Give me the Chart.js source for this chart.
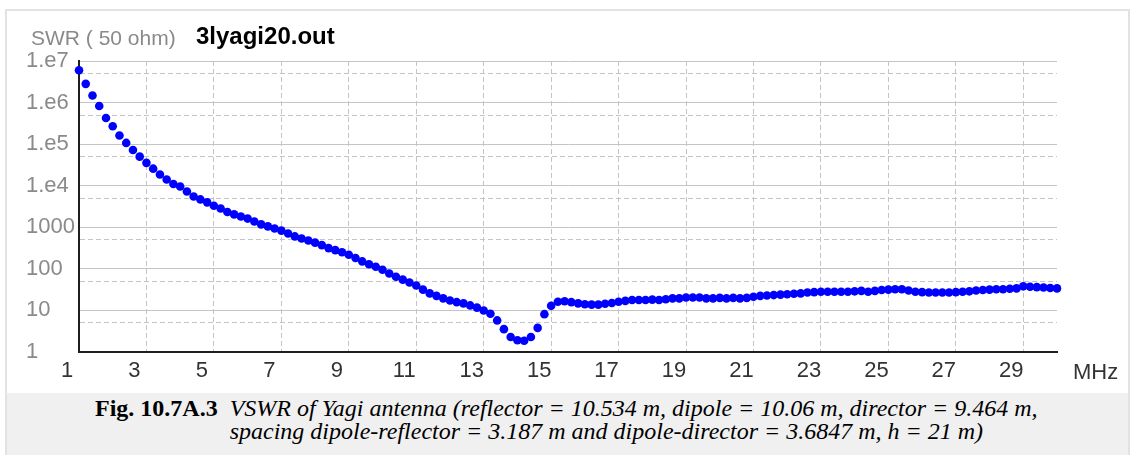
<!DOCTYPE html>
<html>
<head>
<meta charset="utf-8">
<script src="https://cdn.jsdelivr.net/npm/chart.js@4.4.1/dist/chart.umd.min.js"></script>
<style>
  html, body { margin:0; padding:0; background:#fff; width:1130px; height:455px; overflow:hidden; }
  #frame { position:absolute; left:5px; top:9px; width:1125px; height:470px; border:2px solid #e2e2e2; box-sizing:border-box; }
  #band { position:absolute; left:7px; top:393px; width:1121px; height:70px; background:#f0f0f0; }
  #chartBox { position:absolute; left:0; top:0; width:1130px; height:392px; }
  .t1 { position:absolute; left:31px; top:27px; font:21px "Liberation Sans", Arial, sans-serif; color:#8a8a8a; line-height:21px; white-space:nowrap; }
  .t2 { position:absolute; left:196px; top:25px; font:bold 24px "Liberation Sans", Arial, sans-serif; color:#000; line-height:21px; white-space:nowrap; }
  .mhz { position:absolute; left:1073px; top:361px; font:22px "Liberation Sans", Arial, sans-serif; color:#333; line-height:22px; white-space:nowrap; }
  #cap { position:absolute; left:95px; top:397px; display:flex; font-family:"Liberation Serif", "Times New Roman", serif; font-size:24px; line-height:23px; color:#000; white-space:nowrap; }
  #cap .fig { font-weight:bold; }
  #cap .desc { font-style:italic; margin-left:12px; }
</style>
</head>
<body>
<div id="frame"></div>
<div id="band"></div>
<div id="chartBox"><canvas id="c" width="1130" height="392"></canvas></div>
<div class="t1">SWR ( 50 ohm)</div>
<div class="t2">3lyagi20.out</div>
<div class="mhz">MHz</div>
<div id="cap"><span class="fig">Fig. 10.7A.3</span><span class="desc">VSWR of Yagi antenna (reflector = 10.534 m, dipole = 10.06 m, director = 9.464 m,<br>spacing dipole-reflector = 3.187 m and dipole-director = 3.6847 m, h = 21 m)</span></div>
<script>
// Frequencies (MHz)
const freqMHz = [
  1.0, 1.2, 1.4, 1.6, 1.8,   2.0, 2.2, 2.4, 2.6, 2.8,
  3.0, 3.2, 3.4, 3.6, 3.8,   4.0, 4.2, 4.4, 4.6, 4.8,
  5.0, 5.2, 5.4, 5.6, 5.8,   6.0, 6.2, 6.4, 6.6, 6.8,
  7.0, 7.2, 7.4, 7.6, 7.8,   8.0, 8.2, 8.4, 8.6, 8.8,
  9.0, 9.2, 9.4, 9.6, 9.8,   10.0, 10.2, 10.4, 10.6, 10.8,
  11.0, 11.2, 11.4, 11.6, 11.8,   12.0, 12.2, 12.4, 12.6, 12.8,
  13.0, 13.2, 13.4, 13.6, 13.8,   14.0, 14.2, 14.4, 14.6, 14.8,
  15.0, 15.2, 15.4, 15.6, 15.8,   16.0, 16.2, 16.4, 16.6, 16.8,
  17.0, 17.2, 17.4, 17.6, 17.8,   18.0, 18.2, 18.4, 18.6, 18.8,
  19.0, 19.2, 19.4, 19.6, 19.8,   20.0, 20.2, 20.4, 20.6, 20.8,
  21.0, 21.2, 21.4, 21.6, 21.8,   22.0, 22.2, 22.4, 22.6, 22.8,
  23.0, 23.2, 23.4, 23.6, 23.8,   24.0, 24.2, 24.4, 24.6, 24.8,
  25.0, 25.2, 25.4, 25.6, 25.8,   26.0, 26.2, 26.4, 26.6, 26.8,
  27.0, 27.2, 27.4, 27.6, 27.8,   28.0, 28.2, 28.4, 28.6, 28.8,
  29.0, 29.2, 29.4, 29.6, 29.8,   30.0
];
// SWR (50 ohm) values
const swr = [
  6.0e6, 2.82e6, 1.48e6, 8.3e5, 4.27e5,   2.69e5, 1.62e5, 1.07e5, 7.2e4, 5.0e4,
  3.55e4, 2.57e4, 1.86e4, 1.41e4, 1.10e4,   9550, 7240, 5500, 4680, 3980,
  3310, 2820, 2340, 2040, 1820,   1620, 1380, 1175, 1050, 933,
  832, 708, 603, 537, 479,   427, 372, 316, 282, 251,
  219, 182, 151, 129, 112,   95.5, 77.6, 64.6, 55.0, 46.8,
  39.8, 31.6, 25.7, 22.4, 19.5,   17.4, 15.8, 14.8, 13.2, 11.7,
  10.0, 8.3, 5.75, 3.55, 2.29,   1.91, 1.86, 2.29, 3.80, 8.13,
  12.9, 16.2, 16.6, 15.8, 14.8,   14.1, 13.8, 13.8, 14.5, 15.1,
  16.2, 17.0, 17.8, 17.8, 17.8,   18.2, 17.8, 18.6, 19.5, 19.5,
  20.4, 20.4, 20.4, 19.5, 19.5,   20.0, 19.5, 20.0, 19.5, 20.0,
  21.4, 22.4, 22.9, 23.4, 24.0,   24.5, 25.1, 25.7, 26.9, 27.5,
  28.2, 28.2, 28.2, 28.2, 28.2,   28.8, 29.5, 28.2, 29.5, 30.9,
  31.6, 32.4, 32.4, 30.2, 28.2,   27.5, 26.9, 26.9, 26.9, 26.9,
  27.5, 28.2, 28.8, 30.2, 30.9,   31.6, 32.4, 32.4, 33.1, 33.9,
  38.0, 37.2, 36.3, 35.5, 34.7,   33.9
];
const xTickValues = [1, 3, 5, 7, 9, 11, 13, 15, 17, 19, 21, 23, 25, 27, 29];
const yTickValues = [1, 5, 10, 50, 100, 500, 1000, 5000, 1e4, 5e4, 1e5, 5e5, 1e6, 5e6, 1e7];
const yTickLabels = { 1: '1', 10: '10', 100: '100', 1000: '1000', 10000: '1.e4', 100000: '1.e5', 1000000: '1.e6', 10000000: '1.e7' };

const isDecade = v => Math.abs(Math.log10(v) - Math.round(Math.log10(v))) < 1e-9;
const fontSans = '"Liberation Sans", Arial, sans-serif';
const gridColor = '#c4c4c4';

new Chart(document.getElementById('c'), {
  type: 'scatter',
  data: {
    datasets: [{
      data: freqMHz.map((f, i) => ({ x: f, y: swr[i] })),
      backgroundColor: '#0000ff',
      borderColor: '#0000ff',
      pointRadius: 4.3,
      pointHoverRadius: 4.3,
      pointBorderWidth: 0,
      showLine: false,
      clip: false
    }]
  },
  options: {
    responsive: false,
    animation: false,
    devicePixelRatio: 1,
    events: [],
    layout: { padding: { left: 26, top: 61, right: 73, bottom: 0 } },
    plugins: { legend: { display: false }, tooltip: { enabled: false }, title: { display: false } },
    scales: {
      x: {
        type: 'linear',
        min: 1,
        max: 30,
        afterBuildTicks: s => { s.ticks = xTickValues.map(v => ({ value: v })); },
        afterFit: s => { s.height = 40; },
        grid: {
          color: c => (c.tick && c.tick.value === 1) ? 'rgba(0,0,0,0)' : gridColor,
          lineWidth: 1,
          drawTicks: false
        },
        border: { display: true, color: '#1e1e1e', width: 2, dash: [5, 3] },
        ticks: {
          autoSkip: false, maxRotation: 0, minRotation: 0, padding: 6, labelOffset: -12,
          color: '#333', font: { family: fontSans, size: 22 },
          callback: v => String(v)
        }
      },
      y: {
        type: 'logarithmic',
        min: 1,
        max: 1e7,
        afterBuildTicks: s => { s.ticks = yTickValues.map(v => ({ value: v })); },
        afterFit: s => { s.width = 53; },
        grid: {
          color: c => (c.tick && c.tick.value === 1) ? 'rgba(0,0,0,0)' : gridColor,
          lineWidth: 1,
          drawTicks: false
        },
        border: {
          display: true, color: '#1e1e1e', width: 2,
          dash: c => (c.tick && !isDecade(c.tick.value)) ? [5, 3] : []
        },
        ticks: {
          autoSkip: false, crossAlign: 'far', padding: 0,
          color: '#8a8a8a', font: { family: fontSans, size: 22 },
          callback: v => yTickLabels[v] || ''
        }
      }
    }
  }
});
</script>
</body>
</html>
